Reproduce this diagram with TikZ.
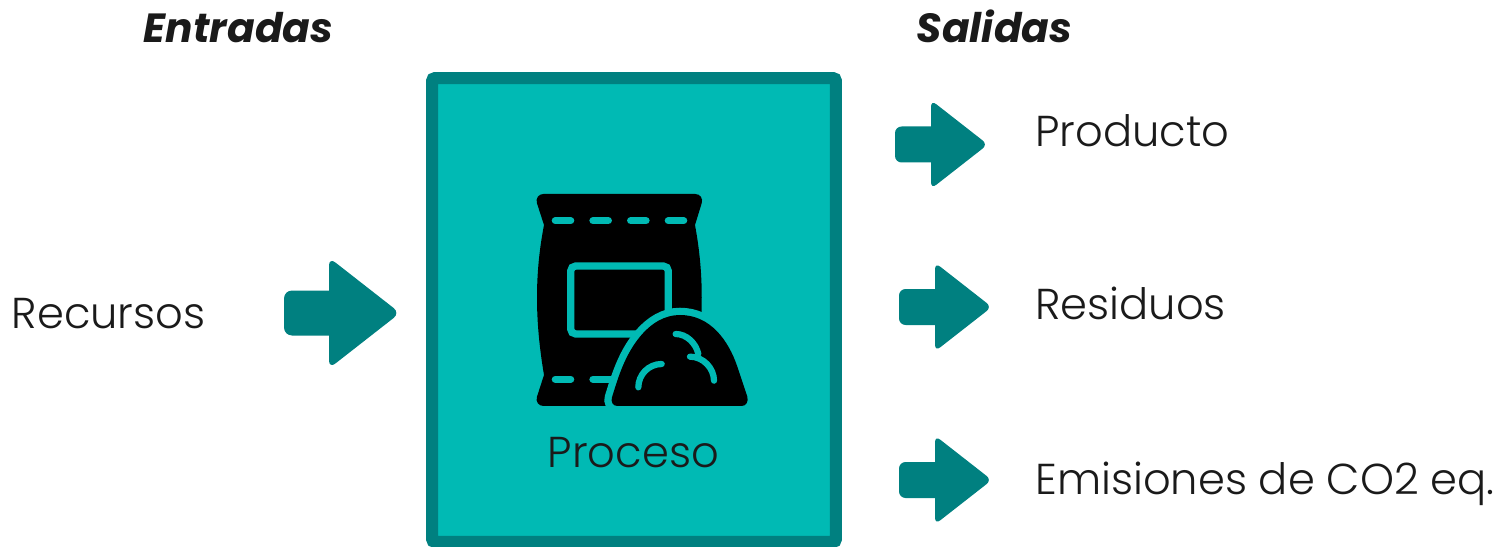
\documentclass[tikz,border=0pt]{standalone}
\usepackage{fontspec}
\usepackage{xcolor}
\setmainfont{Poppins Light}[BoldItalicFont={Poppins Bold Italic}]
\definecolor{tealoscuro}{RGB}{0,128,128}
\definecolor{tealclaro}{RGB}{0,186,180}
\definecolor{texto}{RGB}{26,26,26}

\begin{document}
\begin{tikzpicture}[
    x=0.02cm, y=-0.02cm,
    every node/.style={text=texto},
    etiqueta/.style={anchor=base west, inner sep=0pt, font=\fontsize{24.6}{24.6}\selectfont},
    titulo/.style={anchor=base, inner sep=0pt, font=\fontsize{23.2}{23.2}\selectfont\bfseries\itshape},
    caja/.style={rectangle, draw=tealoscuro, fill=tealclaro, line width=0.24cm, rounded corners=0.6mm, minimum width=8.08cm, minimum height=9.28cm, inner sep=0pt},
    flecha/.pic={
        \fill[tealoscuro, rounded corners=\pgfkeysvalueof{/tikz/radio}] (0,-22.5) rectangle (60,22.5);
        \fill[tealoscuro, rounded corners=\pgfkeysvalueof{/tikz/radio}] (45,-55.5) -- (116,0) -- (45,55.5) -- cycle;
    },
    radio/.initial=1.6mm,
    chica/.style={scale=0.8, radio=1.3mm},
    costura/.style={draw=tealclaro, line width=0.145cm, line cap=round},
    trazo/.style={draw=tealclaro, line width=0.125cm, line cap=round}
]
\useasboundingbox (0,0) rectangle (1500,547);

% Titles
\node[titulo] (entradas) at (238.5,43) {Entradas};
\node[titulo] (salidas) at (994.5,43) {Salidas};

% Process box
\node[caja] (proceso) at (634,310) {};

% Arrows
\pic (f1) at (284,313) {flecha};
\pic[chica] (f2) at (895,144.5) {flecha};
\pic[chica] (f3) at (899,307) {flecha};
\pic[chica] (f4) at (899,480) {flecha};

% Bag icon, in units of a third of a pixel
\begin{scope}[shift={(510,180)}, x=0.00667cm, y=-0.00667cm]
\fill[black] (100,42) -- (556,42) .. controls (570,42) and (580,55) .. (575,70) -- (555,135)
    .. controls (582,280) and (582,420) .. (555,585) -- (575,650)
    .. controls (580,665) and (570,678) .. (556,678) -- (100,678)
    .. controls (86,678) and (76,665) .. (81,650) -- (102,585)
    .. controls (74,420) and (74,280) .. (102,135) -- (81,70)
    .. controls (76,55) and (86,42) .. (100,42) -- cycle;
\draw[costura] (136,122) -- (182,122);
\draw[costura] (249,122) -- (295,122);
\draw[costura] (362,122) -- (408,122);
\draw[costura] (475,122) -- (521,122);
\draw[costura] (136,598) -- (182,598);
\draw[costura] (249,598) -- (320,598);
\draw[costura, rounded corners=1mm] (182,258) rectangle (475,462);
% Pile
\fill[black, preaction={draw=tealclaro, line width=0.29cm}] (322,678)
    .. controls (308,678) and (302,665) .. (306,652)
    .. controls (325,590) and (345,525) .. (390,470)
    .. controls (425,428) and (465,405) .. (510,405)
    .. controls (600,405) and (655,480) .. (682,560)
    -- (712,650) .. controls (716,665) and (708,678) .. (695,678) -- cycle;
\draw[trazo] (385,622) .. controls (385,585) and (415,552) .. (455,552);
\draw[trazo] (497,462) .. controls (530,462) and (558,490) .. (565,522);
\draw[trazo] (540,530) .. controls (580,530) and (612,565) .. (612,602);
\end{scope}

% Labels
\node[etiqueta] (recursos) at (11.5,328) {Recursos};
\node[etiqueta] (producto) at (1035,147) {Producto};
\node[etiqueta] (residuos) at (1035,319) {Residuos};
\node[etiqueta] (emisiones) at (1035,494) {Emisiones de CO2 eq.};
\node[etiqueta] (proc) at (547.5,467) {Proceso};

\end{tikzpicture}
\end{document}
